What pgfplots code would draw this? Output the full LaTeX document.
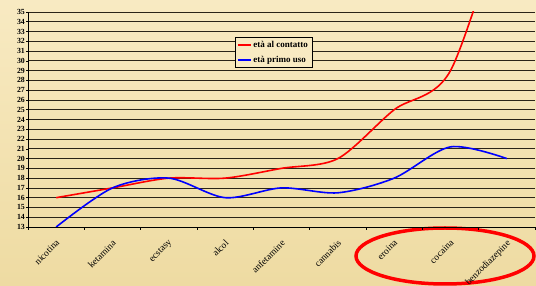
\documentclass[border=0pt]{standalone}
\usepackage{pgfplots}
\pgfplotsset{compat=1.18}
\usepackage{fontspec}
\setmainfont{Liberation Serif}
\definecolor{bgA}{HTML}{F8EAC2}
\definecolor{bgB}{HTML}{EEDBA2}
\definecolor{gridc}{HTML}{2A2418}
\begin{document}
\begin{tikzpicture}[x=1pt,y=1pt]
\path[use as bounding box, top color=bgA, bottom color=bgB] (-28,-59) rectangle (508,227);
\draw[red, line width=3.5pt] (417,-29) ellipse [x radius=89, y radius=28];
\begin{axis}[
  at={(0,0)}, anchor=south west,
  scale only axis, width=507pt, height=215pt,
  xmin=-0.5, xmax=8.5, ymin=13, ymax=35,
  axis x line*=bottom, axis y line*=left,
  axis line style={black, line width=0.8pt},
  xtick={0,...,8},
  xticklabels={nicotina,ketamina,ecstasy,alcol,anfetamine,cannabis,eroina,cocaina,benzodiazepine},
  major x tick style={draw=none},
  minor xtick={-0.5,0.5,...,8.5},
  minor tick length=3pt,
  minor x tick style={black, line width=0.6pt},
  xtick align=outside,
  xticklabel style={rotate=45, anchor=north east, font=\fontsize{9.5}{10}\selectfont, inner sep=0.5pt, yshift=-6pt, xshift=-7pt},
  ytick={13,...,35},
  ytick align=outside,
  major tick length=2pt,
  ytick style={black, line width=0.6pt},
  yticklabel style={font=\bfseries\fontsize{7.8}{8}\selectfont, inner sep=1pt},
  /pgf/number format/assume math mode=true,
  ymajorgrids,
  grid style={gridc, line width=0.8pt},
  legend style={at={(0.408,0.884)}, anchor=north west, draw=black, line width=0.6pt, fill=bgA,
    font=\bfseries\fontsize{9}{9}\selectfont, row sep=3pt, inner sep=2pt},
  legend cell align=left,
  legend image code/.code={\draw[#1, line width=1.5pt] (0,0) -- (0.45cm,0);},
  clip=true,
]
\addplot[red, line width=1.6pt, smooth] coordinates {
  (0,16) (1,17) (2,18) (3,18) (4,19) (5,20) (6,25) (7,29) (8,46)};
\addlegendentry{età al contatto}
\addplot[blue, line width=1.6pt, smooth] coordinates {
  (0,13) (1,17) (2,18) (3,16) (4,17) (5,16.5) (6,18) (7,21.2) (8,20)};
\addlegendentry{età primo uso}
\end{axis}
\end{tikzpicture}
\end{document}
